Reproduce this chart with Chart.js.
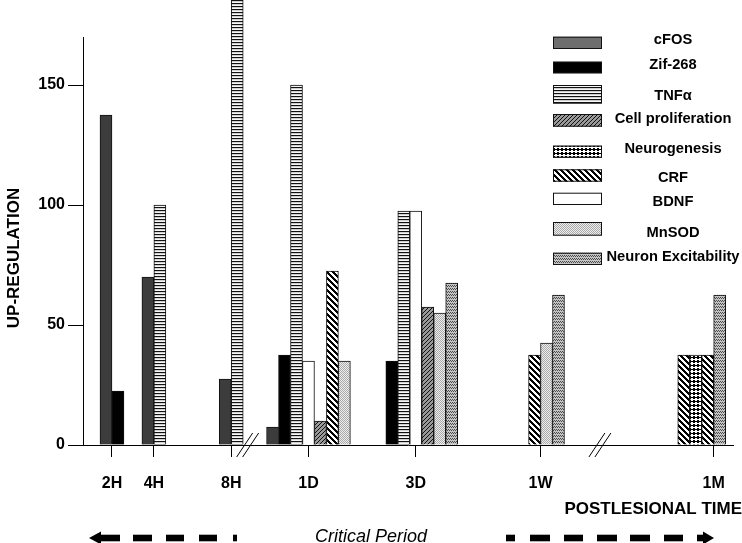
<!DOCTYPE html>
<html>
<head>
<meta charset="utf-8">
<script src="https://cdn.jsdelivr.net/npm/chart.js@4/dist/chart.umd.min.js"></script>
<style>
  html, body { margin: 0; padding: 0; background: #fff; }
</style>
</head>
<body>
<canvas id="myChart" width="742" height="543"></canvas>
<script>
// time points along the x axis
const times = ["2H", "4H", "8H", "1D", "3D", "1W", "1M"];

// up-regulation per series, one value per time point (null = not shown)
const cFOS = [137.5, 70, 27.5, 7.5, null, null, null];
const zif268 = [22.5, null, null, 37.5, 35, null, null];
const tnfAlpha = [null, 100, 190, 150, 97.5, null, null];
const cellProliferation = [null, null, null, 10, 57.5, null, null];
const neurogenesis = [null, null, null, null, null, null, 37.5];
const crf = [null, null, null, 72.5, null, 37.5, 37.5];
const bdnf = [null, null, null, 35, 97.5, null, null];
const mnsod = [null, null, null, 35, 55, 42.5, null];
const neuronExcitability = [null, null, null, null, 67.5, 62.5, 62.5];

const seriesNames = ["cFOS", "Zif-268", "TNF\u03b1", "Cell proliferation", "Neurogenesis", "CRF", "BDNF", "MnSOD", "Neuron Excitability"];
const seriesValues = [cFOS, zif268, tnfAlpha, cellProliferation, neurogenesis, crf, bdnf, mnsod, neuronExcitability];

const yTicks = [0, 50, 100, 150];

// ---- layout (axis units are bar widths) ----
const timeAt = [2.42, 5.92, 12.38, 18.83, 27.79, 38.21, 52.67];
const barOrder = [
    ["cFOS", "Zif-268"],
    ["cFOS", "TNF\u03b1"],
    ["cFOS", "TNF\u03b1"],
    ["cFOS", "Zif-268", "TNF\u03b1", "BDNF", "Cell proliferation", "CRF", "MnSOD"],
    ["Zif-268", "TNF\u03b1", "BDNF", "Cell proliferation", "MnSOD", "Neuron Excitability"],
    ["CRF", "MnSOD", "Neuron Excitability"],
    ["CRF", "Neurogenesis", "CRF", "Neuron Excitability"],
];
const barsLeftOfTick = [1, 1, 1, 3.5, 2.5, 1, 3];
const axisBreaks = [13.75, 43.17];

const ctx = document.getElementById("myChart").getContext("2d");

function tile(w, h, draw) {
    const c = document.createElement("canvas");
    c.width = w;
    c.height = h;
    const g = c.getContext("2d");
    draw(g);
    return ctx.createPattern(c, "repeat");
}

function px(g, color, list) {
    g.fillStyle = color;
    list.forEach((p) => g.fillRect(p[0], p[1], 1, 1));
}

const fills = [
    "#3c3c3c",
    "#000000",
    tile(1, 3, (g) => {
        px(g, "#111", [[0, 0]]);
        px(g, "#cfcfcf", [[0, 1]]);
        px(g, "#f6f6f6", [[0, 2]]);
    }),
    tile(4, 4, (g) => {
        g.fillStyle = "#9a9a9a";
        g.fillRect(0, 0, 4, 4);
        px(g, "#111", [[0, 3], [1, 2], [2, 1], [3, 0]]);
    }),
    tile(4, 4, (g) => {
        g.fillStyle = "#fff";
        g.fillRect(0, 0, 4, 4);
        px(g, "#000", [[1, 0], [2, 0], [0, 1], [1, 1], [2, 1], [3, 1], [1, 2], [2, 2]]);
    }),
    tile(6, 6, (g) => {
        g.fillStyle = "#fff";
        g.fillRect(0, 0, 6, 6);
        const pts = [];
        for (let y = 0; y < 6; y++) {
            for (let k = 0; k < 3; k++) pts.push([(y + k) % 6, y]);
        }
        px(g, "#000", pts);
    }),
    "#ffffff",
    tile(2, 2, (g) => {
        px(g, "#a9a9a9", [[0, 0], [1, 1]]);
        px(g, "#eeeeee", [[1, 0], [0, 1]]);
    }),
    tile(4, 3, (g) => {
        g.fillStyle = "#c4c4c4";
        g.fillRect(0, 0, 4, 3);
        px(g, "#4a4a4a", [[0, 0], [1, 1], [2, 0], [3, 1]]);
    }),
];

const datasets = seriesNames.map((name, s) => {
    const pts = [];
    times.forEach((t, g) => {
        const start = timeAt[g] - barsLeftOfTick[g];
        barOrder[g].forEach((n, i) => {
            if (n === name && seriesValues[s][g] !== null) {
                pts.push({ x: start + i + 0.5, y: seriesValues[s][g] });
            }
        });
    });
    return {
        label: name,
        data: pts,
        backgroundColor: fills[s],
        borderColor: "#111",
        borderWidth: 1,
        grouped: false,
        barPercentage: 1,
        categoryPercentage: 1,
        clip: false,
    };
});

const FONT = "'Liberation Sans', Arial, sans-serif";

// legend box tops / heights and text centres, in the reference's layout
const legendBoxTop = [36.7, 61.7, 85, 114, 145.7, 169.3, 192.7, 222, 252.7];
const legendBoxH = [12.3, 11.6, 18.7, 12.7, 12, 12.4, 12.3, 13.7, 12.3];
const legendTextY = [40, 65, 96, 119, 149, 178, 202, 233, 257];

const decor = {
    id: "decor",
    afterDraw(chart) {
        const c = chart.ctx;
        const area = chart.chartArea;
        const xs = chart.scales.x;
        c.save();
        c.strokeStyle = "#000";
        c.lineWidth = 1;

        // x axis runs a little to the left of the y axis
        c.beginPath();
        c.moveTo(70, area.bottom + 0.5);
        c.lineTo(area.left, area.bottom + 0.5);
        c.stroke();

        // axis breaks
        axisBreaks.forEach((b) => {
            const p = xs.getPixelForValue(b);
            [-3, 3].forEach((d) => {
                c.beginPath();
                c.moveTo(p + d - 8, area.bottom + 12);
                c.lineTo(p + d + 8, area.bottom - 12);
                c.stroke();
            });
        });

        // legend
        chart.data.datasets.forEach((ds, i) => {
            c.fillStyle = i === 0 ? "#6e6e6e" : ds.backgroundColor;
            c.fillRect(553, legendBoxTop[i], 49, legendBoxH[i]);
            c.strokeStyle = "#111";
            c.strokeRect(553.5, legendBoxTop[i] + 0.5, 48, legendBoxH[i] - 1);
            c.fillStyle = "#000";
            c.font = "bold 14.7px " + FONT;
            c.textAlign = "center";
            c.textBaseline = "middle";
            c.fillText(ds.label, 673, legendTextY[i]);
        });

        // axis titles
        c.fillStyle = "#000";
        c.font = "bold 17px " + FONT;
        c.save();
        c.translate(14, 258);
        c.rotate(-Math.PI / 2);
        c.textAlign = "center";
        c.textBaseline = "middle";
        c.fillText("UP-REGULATION", 0, 0);
        c.restore();

        c.textAlign = "right";
        c.textBaseline = "middle";
        c.fillText("POSTLESIONAL TIME", 742, 509);

        // critical period
        c.font = "italic 18px " + FONT;
        c.textAlign = "center";
        c.fillText("Critical Period", 371, 537);

        const ay = 538;
        c.fillStyle = "#000";
        c.beginPath();
        c.moveTo(89, ay);
        c.lineTo(101, ay - 6.5);
        c.lineTo(101, ay + 6.5);
        c.closePath();
        c.fill();
        c.fillRect(100, ay - 3.3, 20, 6.6);
        [[133, 152], [166, 184], [199, 217], [233, 237]].forEach((d) => c.fillRect(d[0], ay - 3.3, d[1] - d[0], 6.6));
        [[506, 515], [530, 550], [564, 583], [597, 617], [630, 650], [664, 683], [697, 704]].forEach((d) => c.fillRect(d[0], ay - 3.3, d[1] - d[0], 6.6));
        c.beginPath();
        c.moveTo(714, ay);
        c.lineTo(703, ay - 6.5);
        c.lineTo(703, ay + 6.5);
        c.closePath();
        c.fill();
        c.restore();
    },
};

const myChart = new Chart(ctx, {
    type: "bar",
    data: { datasets: datasets },
    plugins: [decor],
    options: {
        responsive: false,
        animation: false,
        layout: { padding: { top: 37, right: 7, left: 0, bottom: 0 } },
        plugins: {
            legend: { display: false },
            tooltip: { enabled: false },
        },
        scales: {
            x: {
                type: "linear",
                min: 0,
                max: 54.33,
                offset: false,
                afterFit: (s) => { s.height = 98; },
                afterBuildTicks: (s) => { s.ticks = timeAt.map((v) => ({ value: v })); },
                border: { color: "#000", width: 1 },
                grid: { offset: false, drawOnChartArea: false, drawTicks: true, tickLength: 12, color: "#000" },
                ticks: {
                    autoSkip: false,
                    maxRotation: 0,
                    padding: 17,
                    color: "#000",
                    font: { family: FONT, weight: "bold", size: 16 },
                    callback: (v, i) => times[i],
                },
            },
            y: {
                min: 0,
                max: 170,
                afterFit: (s) => { s.width = 83; },
                afterBuildTicks: (s) => { s.ticks = yTicks.map((v) => ({ value: v })); },
                border: { color: "#000", width: 1 },
                grid: { drawOnChartArea: false, drawTicks: true, tickLength: 15, color: "#000" },
                ticks: {
                    padding: 3,
                    color: "#000",
                    font: { family: FONT, weight: "bold", size: 16 },
                },
            },
        },
    },
});
</script>
</body>
</html>
